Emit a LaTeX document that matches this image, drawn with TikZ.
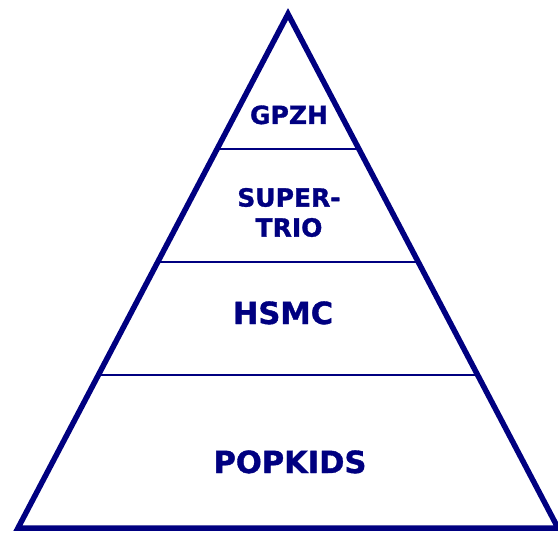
\documentclass[tikz,border=0pt]{standalone}
\usepackage{fontspec}
\setmainfont{DejaVu Sans}[BoldFeatures={FakeBold=1.2}]
\usetikzlibrary{calc}
\definecolor{navy}{RGB}{0,0,128}
\begin{document}
\begin{tikzpicture}[x=1bp,y=-1bp,
  outline/.style={draw=navy,line width=5.5bp,line join=miter},
  divider/.style={draw=navy,line width=2.2bp},
  small/.style={text=navy,inner sep=0pt,align=center,font=\bfseries\fontsize{25bp}{30bp}\selectfont},
  large/.style={text=navy,inner sep=0pt,align=center,font=\bfseries\fontsize{30.5bp}{36bp}\selectfont}]
\useasboundingbox (0,0) rectangle (558,534);
% corners of the pyramid
\coordinate (top) at (288,14);
\coordinate (bl) at (18,528);
\coordinate (br) at (558,528);
% tier boundaries on the two sides
\coordinate (l1) at ($(top)!{(149-14)/514}!(bl)$);
\coordinate (r1) at ($(top)!{(149-14)/514}!(br)$);
\coordinate (l2) at ($(top)!{(262-14)/514}!(bl)$);
\coordinate (r2) at ($(top)!{(262-14)/514}!(br)$);
\coordinate (l3) at ($(top)!{(375-14)/514}!(bl)$);
\coordinate (r3) at ($(top)!{(375-14)/514}!(br)$);
\draw[divider] (l1) -- (r1);
\draw[divider] (l2) -- (r2);
\draw[divider] (l3) -- (r3);
\draw[outline] (top) -- (bl) -- (br) -- cycle;
% tier labels
\node[small,anchor=base] (gpzh) at (289,124) {GPZH};
\node[small] (trio) at (289,212.5) {SUPER-\\TRIO};
\node[large,anchor=base] (hsmc) at (283,324) {HSMC};
\node[large,anchor=base] (popkids) at (290,473) {POPKIDS};
\end{tikzpicture}
\end{document}
